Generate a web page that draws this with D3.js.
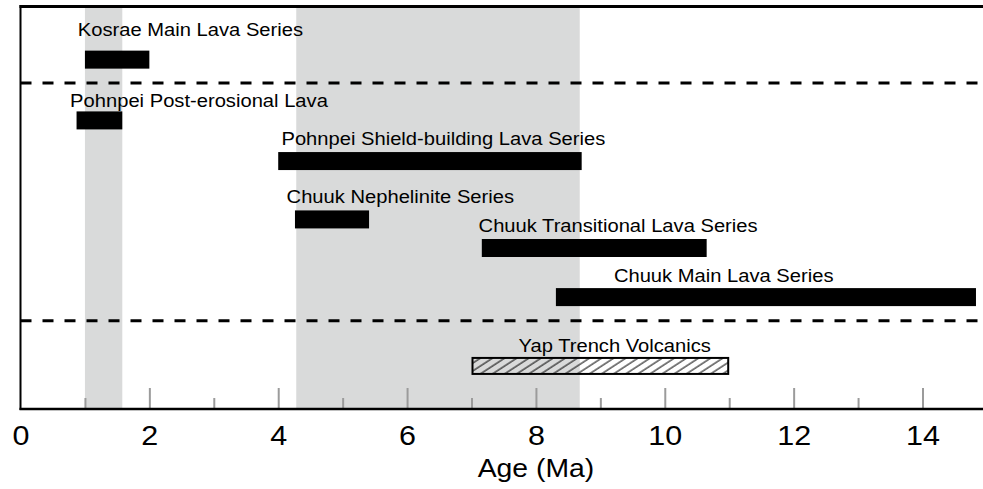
<!DOCTYPE html>
<html>
<head>
<meta charset="utf-8">
<script src="https://cdn.jsdelivr.net/npm/d3@7"></script>
<style>
  body { margin: 0; background: #fff; }
  text { font-family: "Liberation Sans", Arial, sans-serif; fill: #000; }
</style>
</head>
<body>
<div id="chart"></div>
<script>
// Data (ages in Ma)
var series   = ["Kosrae Main Lava Series", "Pohnpei Post-erosional Lava",
                "Pohnpei Shield-building Lava Series", "Chuuk Nephelinite Series",
                "Chuuk Transitional Lava Series", "Chuuk Main Lava Series",
                "Yap Trench Volcanics"];
var ageFrom  = [1.0, 0.87, 4.0, 4.26, 7.16, 8.31, 7.0];
var ageTo    = [2.0, 1.58, 8.71, 5.41, 10.65, 14.83, 11.0];
var hatched  = [false, false, false, false, false, false, true];
var lane     = [13.2, 28.3, 38.4, 52.9, 60.0, 72.2, 89.3];   // vertical order (0 = top, 100 = axis)
var labelAge = [0.89, 0.77, 4.05, 4.13, 7.11, 9.21, 7.73];   // where each label starts
var labelLane = [7.25, 24.9, 34.4, 48.7, 56.0, 68.5, 85.8];
var bands    = [[1.0, 1.58], [4.28, 8.68]];                  // shaded age intervals
var dividers = [19.0, 78.1];
var majorTicks = [0, 2, 4, 6, 8, 10, 12, 14];
var minorTicks = [1, 3, 5, 7, 9, 11, 13];

var width    = 983,
    height   = 489,
    plotLeft = 20.5,
    plotTop  = 6.5,
    plotBot  = 409,
    stretch  = 1.09;   // the original lettering is a little wide

var x = d3.scaleLinear().domain([0, 14]).range([plotLeft, 922.5]);
var y = d3.scaleLinear().domain([0, 100]).range([plotTop, plotBot]);

var svg = d3.select("#chart").append("svg")
    .attr("width", width)
    .attr("height", height);

// hatch for the Yap bar
svg.append("defs").append("pattern")
    .attr("id", "hatch")
    .attr("patternUnits", "userSpaceOnUse")
    .attr("width", 10).attr("height", 6.6)
    .attr("patternTransform", "rotate(-33)")
  .append("line")
    .attr("x1", 0).attr("x2", 10)
    .attr("y1", 1).attr("y2", 1)
    .attr("stroke", "#000").attr("stroke-width", 1);

// grey bands
svg.selectAll("rect.band")
  .data(bands)
  .enter().append("rect")
    .attr("class", "band")
    .attr("x", d => x(d[0]))
    .attr("width", d => x(d[1]) - x(d[0]))
    .attr("y", plotTop)
    .attr("height", plotBot - plotTop)
    .attr("fill", "#d9dada");

// tick marks pointing up from the axis
var gMajor = svg.append("g")
    .attr("transform", "translate(0," + plotBot + ")")
    .call(d3.axisTop(x).tickValues(majorTicks.slice(1)).tickSize(21).tickFormat(""));
var gMinor = svg.append("g")
    .attr("transform", "translate(0," + plotBot + ")")
    .call(d3.axisTop(x).tickValues(minorTicks).tickSize(11).tickFormat(""));
[gMajor, gMinor].forEach(function(g) {
  g.select(".domain").remove();
  g.selectAll(".tick line").attr("stroke", "#9b9b9b").attr("stroke-width", 2);
});

// tick labels
var gLab = svg.append("g")
    .attr("transform", "translate(0," + plotBot + ")")
    .call(d3.axisBottom(x).tickValues(majorTicks).tickSize(0).tickPadding(16));
gLab.select(".domain").remove();
gLab.selectAll(".tick text")
    .attr("font-size", 28)
    .attr("font-family", "'Liberation Sans', Arial, sans-serif")
    .attr("dy", "0.71em")
    .attr("transform", "scale(" + stretch + ",1)");

svg.append("text")
    .attr("transform", "translate(" + x(8.0) + ",477) scale(" + stretch + ",1)")
    .attr("text-anchor", "middle")
    .attr("font-size", 26)
    .text("Age (Ma)");

// dashed dividers
svg.selectAll("line.divider")
  .data(dividers)
  .enter().append("line")
    .attr("class", "divider")
    .attr("x1", plotLeft).attr("x2", width)
    .attr("y1", d => y(d)).attr("y2", d => y(d))
    .attr("stroke", "#000")
    .attr("stroke-width", 3)
    .attr("stroke-dasharray", "11,11");

// bars
var barH = 18;
svg.selectAll("rect.bar")
  .data(series)
  .enter().append("rect")
    .attr("class", "bar")
    .attr("x", (d, i) => x(ageFrom[i]) + (hatched[i] ? 1 : 0))
    .attr("width", (d, i) => x(ageTo[i]) - x(ageFrom[i]) - (hatched[i] ? 2 : 0))
    .attr("y", (d, i) => y(lane[i]) - barH / 2 + (hatched[i] ? 1 : 0))
    .attr("height", (d, i) => barH - (hatched[i] ? 2 : 0))
    .attr("fill", (d, i) => hatched[i] ? "url(#hatch)" : "#000")
    .attr("stroke", (d, i) => hatched[i] ? "#000" : "none")
    .attr("stroke-width", 2);

// bar labels
svg.selectAll("text.label")
  .data(series)
  .enter().append("text")
    .attr("class", "label")
    .attr("transform", (d, i) => "translate(" + x(labelAge[i]) + "," + y(labelLane[i]) + ") scale(" + stretch + ",1)")
    .attr("font-size", 18.5)
    .text(d => d);

// frame: left, top and the axis line
svg.append("line")
    .attr("x1", plotLeft).attr("x2", plotLeft)
    .attr("y1", plotTop - 1.5).attr("y2", plotBot + 1)
    .attr("stroke", "#000").attr("stroke-width", 2);
svg.append("line")
    .attr("x1", plotLeft - 1).attr("x2", width)
    .attr("y1", plotTop).attr("y2", plotTop)
    .attr("stroke", "#000").attr("stroke-width", 3);
svg.append("line")
    .attr("x1", plotLeft - 1).attr("x2", width)
    .attr("y1", plotBot).attr("y2", plotBot)
    .attr("stroke", "#000").attr("stroke-width", 2.5);
</script>
</body>
</html>
